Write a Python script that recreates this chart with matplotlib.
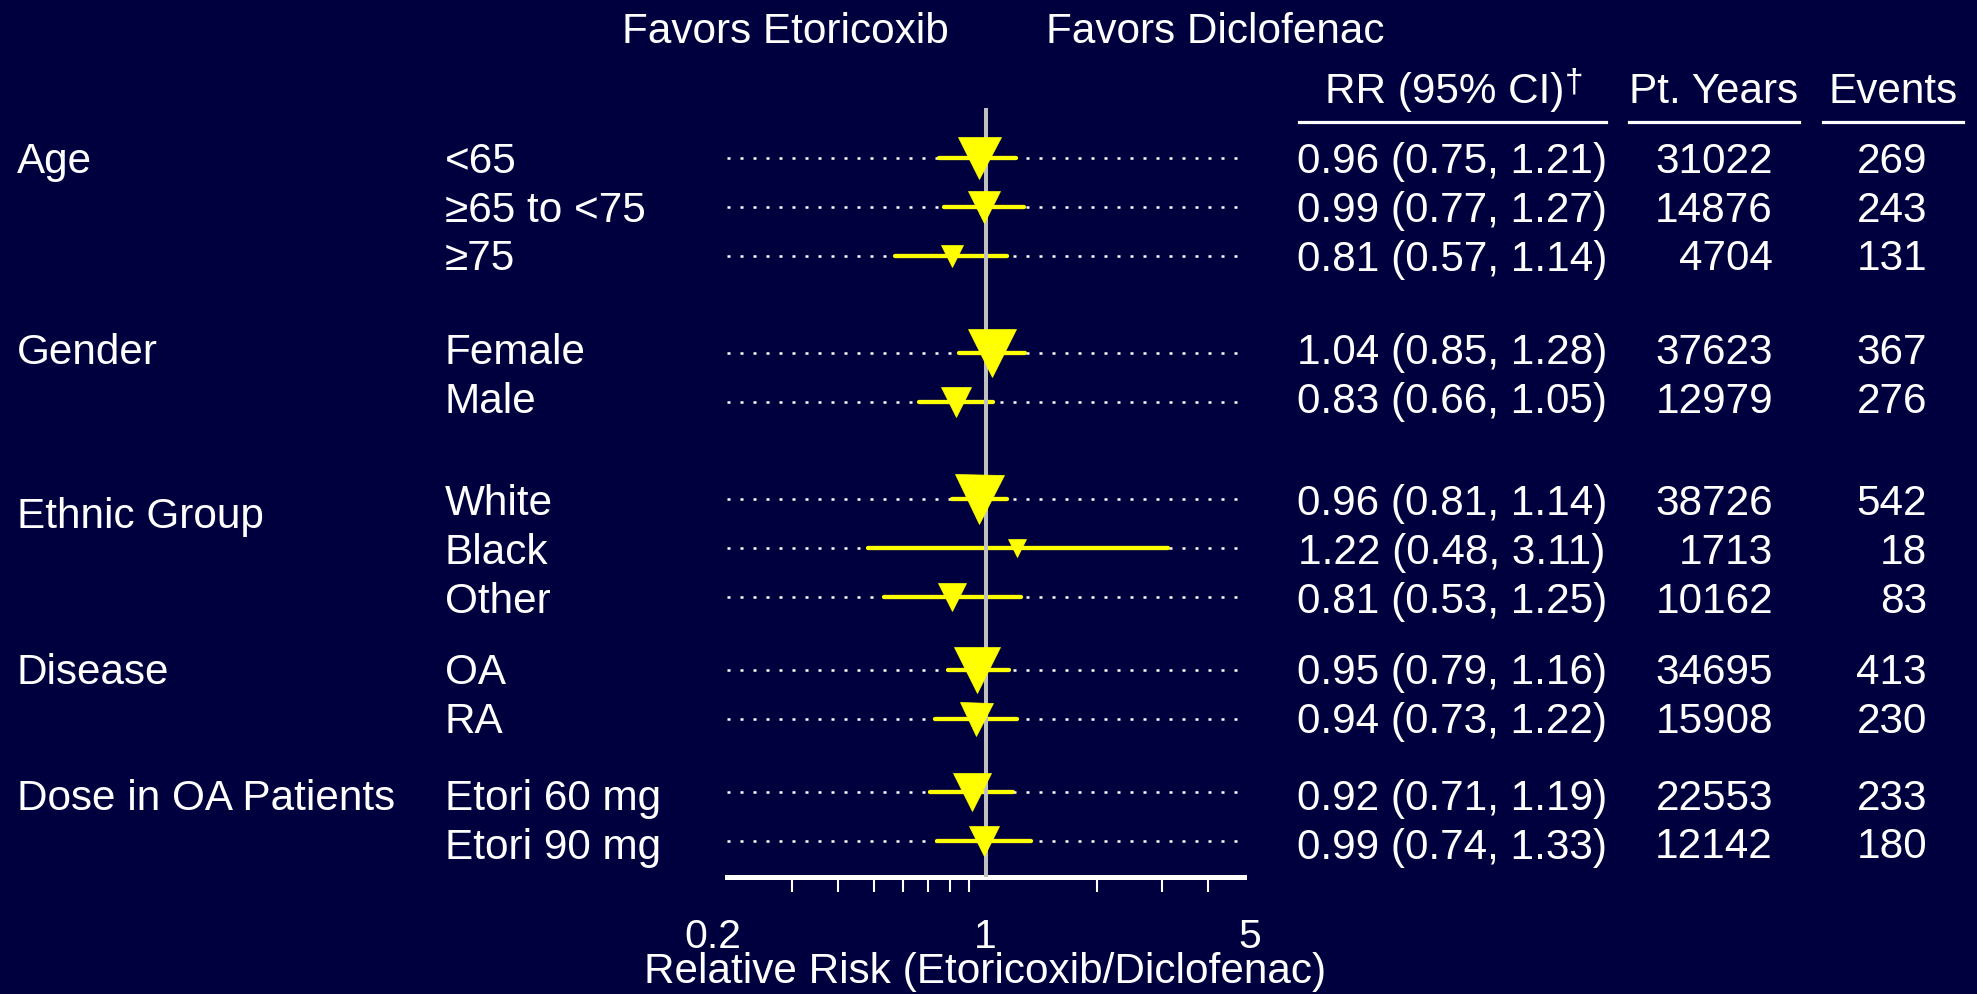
import matplotlib.pyplot as plt
import matplotlib.transforms as mtransforms
from matplotlib.lines import Line2D
from matplotlib.ticker import FixedLocator, FixedFormatter, NullFormatter

plt.rcParams['font.family'] = ['Liberation Sans', 'DejaVu Sans']

# data
groups = ["Age", "Gender", "Ethnic Group", "Disease", "Dose in OA Patients"]
group_sizes = [3, 2, 3, 2, 2]
subgroups = ["<65", "≥65 to <75", "≥75", "Female", "Male", "White", "Black", "Other",
             "OA", "RA", "Etori 60 mg", "Etori 90 mg"]
rr = [0.96, 0.99, 0.81, 1.04, 0.83, 0.96, 1.22, 0.81, 0.95, 0.94, 0.92, 0.99]
ci_low = [0.75, 0.77, 0.57, 0.85, 0.66, 0.81, 0.48, 0.53, 0.79, 0.73, 0.71, 0.74]
ci_high = [1.21, 1.27, 1.14, 1.28, 1.05, 1.14, 3.11, 1.25, 1.16, 1.22, 1.19, 1.33]
pt_years = [31022, 14876, 4704, 37623, 12979, 38726, 1713, 10162, 34695, 15908, 22553, 12142]
events = [269, 243, 131, 367, 276, 542, 18, 83, 413, 230, 233, 180]
x_ticks = [0.2, 1, 5]
x_minor = [0.3, 0.4, 0.5, 0.6, 0.7, 0.8, 0.9, 1, 2, 3, 4, 5]

# style / layout
marker_px = [43, 32, 22, 48, 30, 49, 18, 28, 46, 33, 38, 30]
group_gap = [1.0, 1.0, 0.5, 0.5]
label_shift = [0, 0, 0.27, 0, 0]
text_shift = [0, -4, 1, -1, 3]     # px, text rows vs marker rows
tick_dx = [-14, 0, 6]              # px, tick label nudges
BG = '#00003f'
YEL = '#ffff00'
W, H = 1977, 995
ROW0, ROWH = 159, 48.75
FS = 30.4

# row positions (in row units)
ypos, gstart, gidx = [], [], []
y = 0.0
for i, n in enumerate(group_sizes):
    gstart.append(y)
    for k in range(n):
        ypos.append(y + k)
        gidx.append(i)
    y += n
    if i < len(group_gap):
        y += group_gap[i]

def row_px(r):
    return ROW0 + r * ROWH

fig = plt.figure(figsize=(W / 100, H / 100), dpi=100, facecolor=BG)

ax_top, ax_bot = 109, 878
ax = fig.add_axes([727 / W, 1 - ax_bot / H, (1244 - 727) / W, (ax_bot - ax_top) / H])
ax.set_facecolor(BG)
ax.set_xscale('log')
ax.set_xlim(0.2, 5)
ax.set_ylim((ax_bot - ROW0) / ROWH, (ax_top - ROW0) / ROWH)

for yy, lo, hi, r, s in zip(ypos, ci_low, ci_high, rr, marker_px):
    ax.plot([0.2, 5], [yy, yy], color='white', lw=1.8, dashes=(1.2, 4.0), zorder=1)
    ax.plot([lo, hi], [yy, yy], color=YEL, lw=3.1, solid_capstyle='round', zorder=2)
    ax.plot(r, yy, marker='v', ms=s * 0.72, color=YEL, mec=YEL, mew=0.5, zorder=4)
ax.axvline(1, color='#c0c0c0', lw=2.9, zorder=3)

for side in ['left', 'top', 'right']:
    ax.spines[side].set_visible(False)
ax.spines['bottom'].set_color('white')
ax.spines['bottom'].set_linewidth(3.6)
ax.set_yticks([])
ax.xaxis.set_major_locator(FixedLocator(x_ticks))
ax.xaxis.set_major_formatter(FixedFormatter([f"{t:g}" for t in x_ticks]))
ax.xaxis.set_minor_locator(FixedLocator(x_minor))
ax.xaxis.set_minor_formatter(NullFormatter())
ax.tick_params(axis='x', which='major', length=0, pad=28.5, labelsize=29.5, labelcolor='white')
ax.tick_params(axis='x', which='minor', length=11, width=1.5, color='white')
for tick, dx in zip(ax.xaxis.get_major_ticks(), tick_dx):
    tick.label1.set_transform(tick.label1.get_transform()
                              + mtransforms.ScaledTranslation(dx / 100, 0, fig.dpi_scale_trans))

# overlay in pixel coords for text columns
ov = fig.add_axes([0, 0, 1, 1])
ov.set_xlim(0, W)
ov.set_ylim(H, 0)
ov.axis('off')
ov.patch.set_alpha(0)

txt = dict(color='white', fontsize=FS, va='baseline')
ov.text(622, 43, "Favors Etoricoxib", ha='left', **txt)
ov.text(1046, 43, "Favors Diclofenac", ha='left', **txt)

ov.text(1325, 103, "RR (95% CI)", ha='left', **txt)
ov.text(1565, 92, "\u2020", ha='left', color='white', fontsize=24, va='baseline')
ov.text(1714, 103, "Pt. Years", ha='center', **txt)
ov.text(1893, 103, "Events", ha='center', **txt)
for x0, x1 in [(1299, 1606), (1629, 1799), (1823, 1963)]:
    ov.add_line(Line2D([x0, x1], [123, 123], color='white', lw=2.3))

for i, (g, gs, sh) in enumerate(zip(groups, gstart, label_shift)):
    ov.text(17, row_px(gs + sh) + 14 + text_shift[i], g, ha='left', **txt)

for yy, gi, name, r, lo, hi, py, ev in zip(ypos, gidx, subgroups, rr, ci_low, ci_high,
                                           pt_years, events):
    b = row_px(yy) + 14 + text_shift[gi]
    ov.text(445, b, name, ha='left', **txt)
    ov.text(1452, b, f"{r:.2f} ({lo:.2f}, {hi:.2f})", ha='center', **txt)
    ov.text(1773, b, f"{py}", ha='right', **txt)
    ov.text(1927, b, f"{ev}", ha='right', **txt)

ov.text(985.5, 983, "Relative Risk (Etoricoxib/Diclofenac)", ha='center', **txt)

fig.savefig('out.png', dpi=100, facecolor=BG)
